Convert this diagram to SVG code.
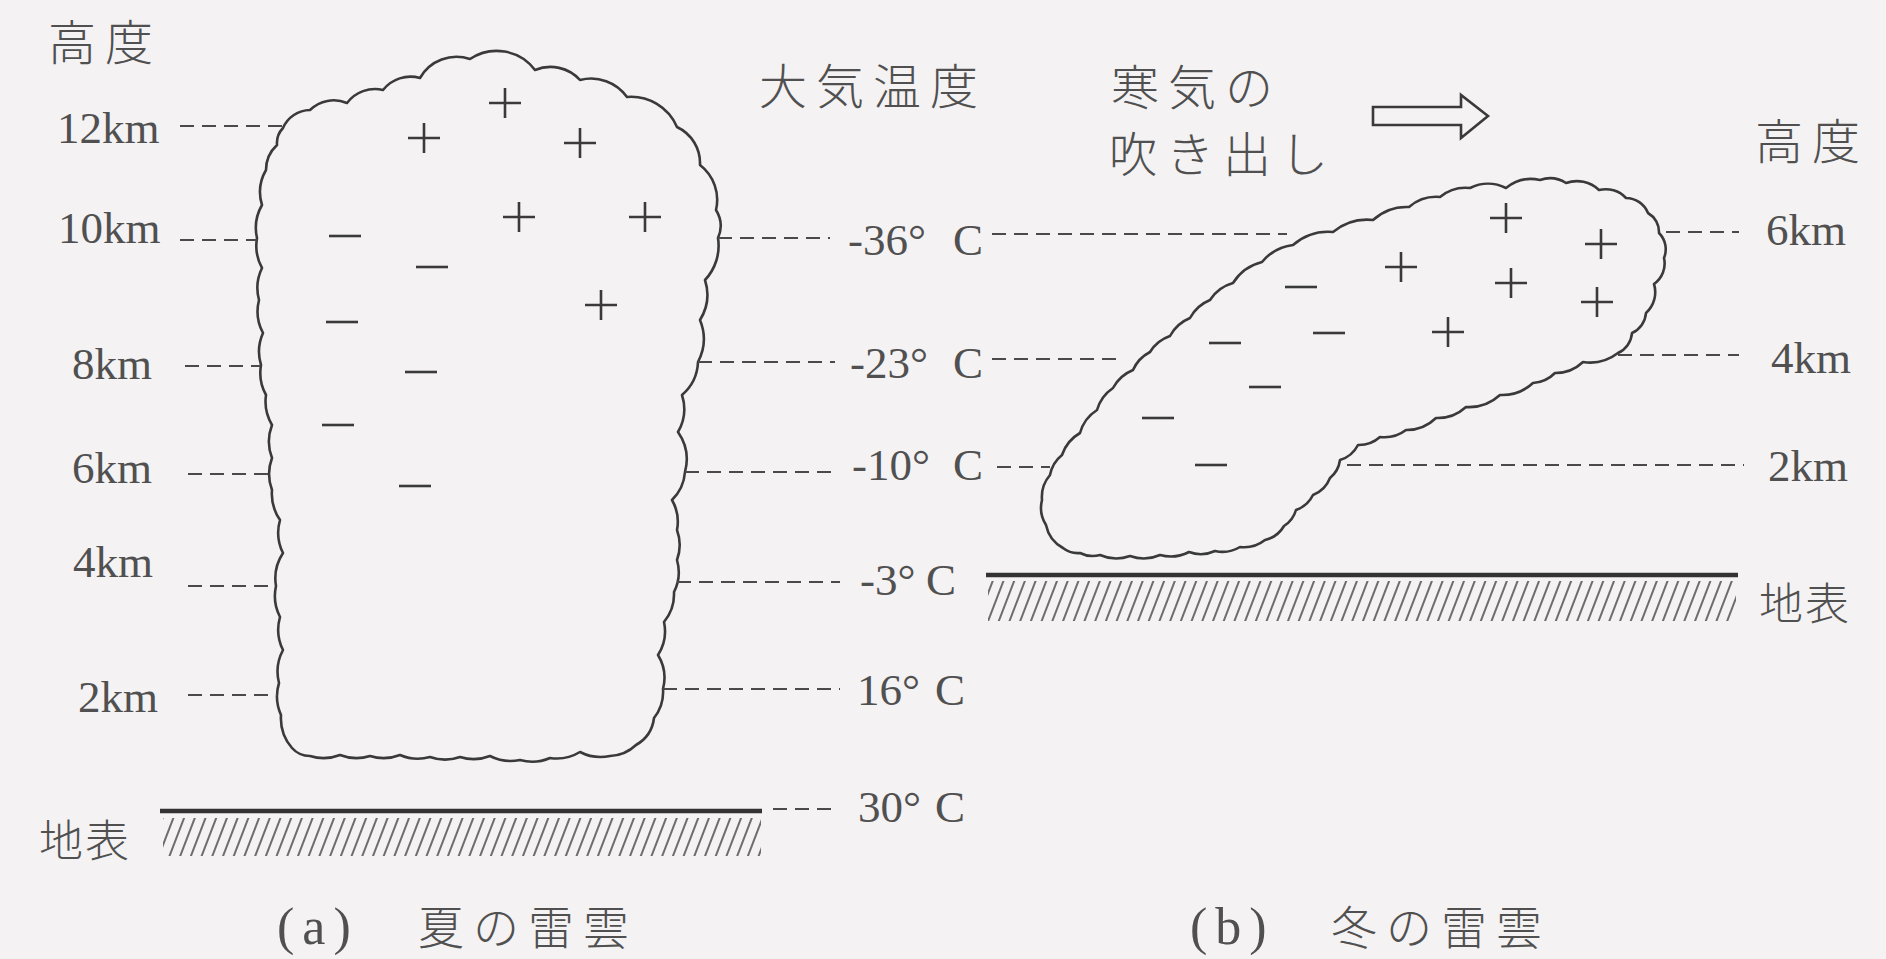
<svg xmlns="http://www.w3.org/2000/svg" width="1886" height="959" viewBox="0 0 1886 959">
  <style>
    .jp { font-family: "Noto Sans CJK JP", "Noto Sans CJK SC", sans-serif; font-size: 48px; font-weight: 300; fill: #505050; letter-spacing: 9px; }
    .lat { font-family: "Liberation Serif", "DejaVu Serif", serif; font-size: 45px; fill: #505050; }
    .cloud { fill: none; stroke: #3a3a3a; stroke-width: 2.6; stroke-linejoin: round; }
    .lead { fill: none; stroke: #4a4a4a; stroke-width: 2.2; stroke-dasharray: 14 8; }
    .ground { stroke: #333; stroke-width: 4.5; fill: none; }
    .sign { stroke: #3a3a3a; stroke-width: 2.6; fill: none; }
    .cap { font-family: "Liberation Serif", "DejaVu Serif", serif; font-size: 52px; fill: #505050; letter-spacing: 8px; }
  </style>
  <defs>
    <pattern id="hatch" width="10" height="10" patternUnits="userSpaceOnUse" patternTransform="rotate(21)">
      <line x1="5" y1="0" x2="5" y2="10" stroke="#555" stroke-width="1.7"/>
    </pattern>
    <path id="plus" class="sign" d="M-16 0H16M0 -15V15"/>
    <path id="minus" class="sign" d="M-16 0H16"/>
  </defs>

  <rect width="1886" height="959" fill="#f4f2f3"/>

  <!-- (a) summer thundercloud -->
  <g id="summer-cloud">
    <path class="cloud" d="M283,128
      A30 30 0 0 1 310,110 A34 34 0 0 1 347,103 A35 35 0 0 1 383,90 A35 35 0 0 1 420,78
      A42 42 0 0 1 470,59 A48 48 0 0 1 535,70 A40 40 0 0 1 580,80 A44 44 0 0 1 627,97
      A50 50 0 0 1 677,127 A40 40 0 0 1 700,165 A44 44 0 0 1 716,210 A30 30 0 0 1 718,238
      A50 50 0 0 1 705,280 A48 48 0 0 1 700,320 A50 50 0 0 1 698,362 A46 46 0 0 1 682,395
      A46 46 0 0 1 678,432 A48 48 0 0 1 685,472 A44 44 0 0 1 672,500 A44 44 0 0 1 677,530
      A44 44 0 0 1 677,560 A44 44 0 0 1 674,592 A44 44 0 0 1 664,622 A44 44 0 0 1 658,655
      A44 44 0 0 1 663,689 A42 42 0 0 1 654,718 A36 36 0 0 1 636,745
      A40 40 0 0 1 610,756 A45 45 0 0 1 580,752 A45 45 0 0 1 550,758 A45 45 0 0 1 520,760
      A45 45 0 0 1 490,756 A45 45 0 0 1 460,757 A45 45 0 0 1 430,757 A45 45 0 0 1 400,755
      A45 45 0 0 1 370,756 A45 45 0 0 1 340,755 A45 45 0 0 1 310,756 A24 24 0 0 1 292,748
      A46 46 0 0 1 281,715 A46 46 0 0 1 279,683 A46 46 0 0 1 283,650 A46 46 0 0 1 280,617
      A46 46 0 0 1 276,586 A46 46 0 0 1 283,553 A46 46 0 0 1 280,520 A46 46 0 0 1 272,490
      A46 46 0 0 1 272,458 A46 46 0 0 1 272,425 A46 46 0 0 1 266,395 A46 46 0 0 1 261,365
      A46 46 0 0 1 263,333 A46 46 0 0 1 259,300 A46 46 0 0 1 262,268 A46 46 0 0 1 257,238
      A46 46 0 0 1 262,205 A44 44 0 0 1 266,170 A34 34 0 0 1 277,145 A22 22 0 0 1 283,128 Z"/>
    <use href="#plus" x="505" y="103"/>
    <use href="#plus" x="424" y="138"/>
    <use href="#plus" x="580" y="143"/>
    <use href="#plus" x="519" y="217"/>
    <use href="#plus" x="645" y="217"/>
    <use href="#plus" x="601" y="305"/>
    <use href="#minus" x="345" y="236"/>
    <use href="#minus" x="432" y="267"/>
    <use href="#minus" x="342" y="322"/>
    <use href="#minus" x="421" y="372"/>
    <use href="#minus" x="338" y="425"/>
    <use href="#minus" x="415" y="486"/>
  </g>

  <!-- (b) winter thundercloud -->
  <g id="winter-cloud">
    <path class="cloud" d="M1063,548
      A34 34 0 0 1 1046,525 A32 32 0 0 1 1042,500 A34 34 0 0 1 1050,475 A34 34 0 0 1 1062,455
      A40 40 0 0 1 1080,433 A40 40 0 0 1 1097,410 A40 40 0 0 1 1113,388 A40 40 0 0 1 1133,370
      A38 38 0 0 1 1150,352 A38 38 0 0 1 1170,336 A40 40 0 0 1 1190,318 A40 40 0 0 1 1210,300
      A40 40 0 0 1 1233,283 A48 48 0 0 1 1262,262 A48 48 0 0 1 1293,245 A54 54 0 0 1 1333,232
      A54 54 0 0 1 1373,220 A50 50 0 0 1 1409,207 A42 42 0 0 1 1440,197 A40 40 0 0 1 1470,188
      A40 40 0 0 1 1506,188 A40 40 0 0 1 1540,180 A30 30 0 0 1 1566,183 A32 32 0 0 1 1599,190
      A28 28 0 0 1 1626,198 A24 24 0 0 1 1648,213 A22 22 0 0 1 1659,233 A23 23 0 0 1 1664,258
      A25 25 0 0 1 1654,284 A28 28 0 0 1 1646,313 A24 24 0 0 1 1632,333 A24 24 0 0 1 1618,353
      A46 46 0 0 1 1583,362 A40 40 0 0 1 1555,373 A34 34 0 0 1 1533,383 A46 46 0 0 1 1500,395
      A46 46 0 0 1 1466,407 A42 42 0 0 1 1436,418 A42 42 0 0 1 1406,430 A36 36 0 0 1 1380,437
      A32 32 0 0 1 1358,445 A30 30 0 0 1 1340,460 A28 28 0 0 1 1330,478 A30 30 0 0 1 1313,495
      A30 30 0 0 1 1296,510 A28 28 0 0 1 1284,526 A30 30 0 0 1 1265,540 A34 34 0 0 1 1240,547
      A34 34 0 0 1 1215,551 A34 34 0 0 1 1189,552 A40 40 0 0 1 1160,555 A40 40 0 0 1 1130,556
      A40 40 0 0 1 1100,555 A28 28 0 0 1 1080,553 A24 24 0 0 1 1063,548 Z"/>
    <use href="#plus" x="1506" y="218"/>
    <use href="#plus" x="1601" y="244"/>
    <use href="#plus" x="1401" y="267"/>
    <use href="#plus" x="1511" y="283"/>
    <use href="#plus" x="1597" y="302"/>
    <use href="#plus" x="1448" y="332"/>
    <use href="#minus" x="1301" y="287"/>
    <use href="#minus" x="1329" y="333"/>
    <use href="#minus" x="1225" y="343"/>
    <use href="#minus" x="1265" y="387"/>
    <use href="#minus" x="1158" y="418"/>
    <use href="#minus" x="1211" y="465"/>
  </g>

  <!-- ground surfaces -->
  <g id="ground-a">
    <rect x="163" y="818" width="598" height="38" fill="url(#hatch)"/>
    <path class="ground" d="M160,811H762"/>
    <text class="jp" x="39" y="857" style="font-size:44px;letter-spacing:2px">地表</text>
  </g>
  <g id="ground-b">
    <rect x="988" y="581" width="748" height="40" fill="url(#hatch)"/>
    <path class="ground" d="M986,575H1738"/>
    <text class="jp" x="1759" y="620" style="font-size:44px;letter-spacing:2px">地表</text>
  </g>

  <!-- cold-air outflow arrow -->
  <g id="outflow-arrow">
    <path d="M1373,107H1461V95L1488,116L1461,138V125H1373Z" fill="#f4f2f3" stroke="#3a3a3a" stroke-width="2.6" stroke-linejoin="miter"/>
    <text class="jp" x="1111" y="105">寒気の</text>
    <text class="jp" x="1109" y="172">吹き出し</text>
  </g>

  <!-- leader lines -->
  <g id="connectors">
    <path class="lead" d="M180,126H283M180,240H257M185,366H260M188,474H271M188,586H276M188,695H277"/>
    <path class="lead" d="M718,238H830M698,362H835M685,472H835M677,582H840M663,689H840M773,809H833"/>
    <path class="lead" d="M992,234H1287M992,359H1124M997,467H1050"/>
    <path class="lead" d="M1666,232H1739M1618,355H1739M1347,465H1744"/>
  </g>

  <!-- altitude scale, left -->
  <g id="altitude-a">
    <text class="jp" x="48" y="60">高度</text>
    <text class="lat" x="57" y="143">12km</text>
    <text class="lat" x="58" y="243">10km</text>
    <text class="lat" x="72" y="379">8km</text>
    <text class="lat" x="72" y="483">6km</text>
    <text class="lat" x="73" y="577">4km</text>
    <text class="lat" x="78" y="712">2km</text>
  </g>

  <!-- air temperature scale -->
  <g id="temperature">
    <text class="jp" x="759" y="104">大気温度</text>
    <text class="lat" x="848" y="255">-36°</text><text class="lat" x="953" y="255">C</text>
    <text class="lat" x="850" y="378">-23°</text><text class="lat" x="953" y="378">C</text>
    <text class="lat" x="852" y="480">-10°</text><text class="lat" x="953" y="480">C</text>
    <text class="lat" x="860" y="595">-3°</text><text class="lat" x="926" y="595">C</text>
    <text class="lat" x="857" y="705">16°</text><text class="lat" x="935" y="705">C</text>
    <text class="lat" x="858" y="822">30°</text><text class="lat" x="935" y="822">C</text>
  </g>

  <!-- altitude scale, right -->
  <g id="altitude-b">
    <text class="jp" x="1755" y="159">高度</text>
    <text class="lat" x="1766" y="245">6km</text>
    <text class="lat" x="1771" y="373">4km</text>
    <text class="lat" x="1768" y="481">2km</text>
  </g>

  <!-- captions -->
  <g id="caption-a">
    <text class="cap" x="277" y="944">(a)</text>
    <text class="jp" x="418" y="944" style="font-size:46px">夏の雷雲</text>
  </g>
  <g id="caption-b">
    <text class="cap" x="1190" y="944">(b)</text>
    <text class="jp" x="1331" y="944" style="font-size:46px">冬の雷雲</text>
  </g>
</svg>
